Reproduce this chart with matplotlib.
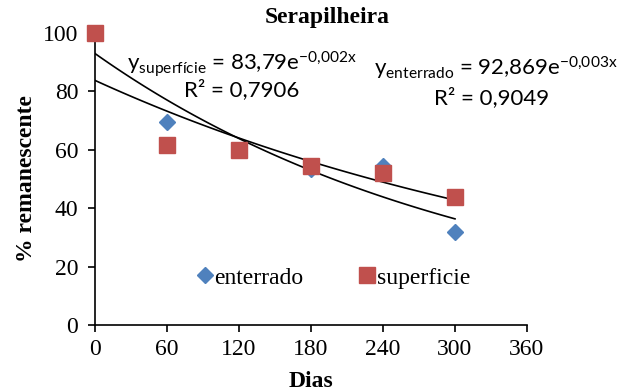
import numpy as np
import matplotlib.pyplot as plt

plt.rcParams['font.family'] = ['Liberation Serif', 'DejaVu Serif']
plt.rcParams['mathtext.fontset'] = 'custom'
plt.rcParams['mathtext.rm'] = 'Lato'
plt.rcParams['mathtext.it'] = 'Lato:italic'

# data
dias = [0, 60, 120, 180, 240, 300]
enterrado = [100, 69.5, 60, 53.4, 54.5, 31.8]
superficie = [100, 61.5, 60, 54.5, 52, 44]

x_ticks = [0, 60, 120, 180, 240, 300, 360]
y_ticks = [0, 20, 40, 60, 80, 100]

blue = '#4F81BD'
red = '#C0504D'

fig = plt.figure(figsize=(6.31, 3.92), dpi=100)
ax = fig.add_axes([95 / 631, 1 - 325 / 392, 432 / 631, 292 / 392])

ax.plot(dias, enterrado, 'D', color=blue, markersize=8.5, label='enterrado',
        zorder=3, clip_on=False)
ax.plot(dias, superficie, 's', color=red, markersize=11.5, label='superficie',
        zorder=4, clip_on=False)

# exponential trendlines (least squares on log y, like Excel)
xx = np.linspace(0, 300, 100)
for serie in (enterrado, superficie):
    k, lna = np.polyfit(dias, np.log(serie), 1)
    ax.plot(xx, np.exp(lna) * np.exp(k * xx), color='black', lw=1.2, zorder=2)

ax.set_xlim(0, 360)
ax.set_ylim(0, 100)
ax.set_xticks(x_ticks)
ax.set_yticks(y_ticks)
ax.tick_params(direction='out', length=5, width=1.2, labelsize=17)
ax.tick_params(axis='x', pad=5)
ax.tick_params(axis='y', pad=7)
for s in ('top', 'right'):
    ax.spines[s].set_visible(False)
for s in ('left', 'bottom'):
    ax.spines[s].set_linewidth(1.2)

ax.set_xlabel('Dias', fontsize=17, fontweight='bold', labelpad=8)
ax.set_ylabel('% remanescente', fontsize=17, fontweight='bold', labelpad=4)
fig.text(327 / 631, 1 - 18 / 392, 'Serapilheira', fontsize=17, fontweight='bold',
         ha='center', va='center')

eq_font = dict(family='Lato', fontsize=16, ha='center', va='center')
fig.text(242 / 631, 1 - 64 / 392, r'y$_{\mathrm{superfície}}$ = 83,79e$^{\mathrm{-0{,}002x}}$', **eq_font)
fig.text(242 / 631, 1 - 90 / 392, 'R² = 0,7906', **eq_font)
fig.text(496 / 631, 1 - 68 / 392, r'y$_{\mathrm{enterrado}}$ = 92,869e$^{\mathrm{-0{,}003x}}$', **eq_font)
fig.text(492 / 631, 1 - 98 / 392, 'R² = 0,9049', **eq_font)

ax.legend(loc='center', bbox_to_anchor=(334 / 631, 1 - 278 / 392),
          bbox_transform=fig.transFigure, ncol=2, frameon=False, fontsize=17,
          handlelength=0.6, handletextpad=0.1, columnspacing=2.4, borderaxespad=0)

fig.savefig('out.png', dpi=100)
